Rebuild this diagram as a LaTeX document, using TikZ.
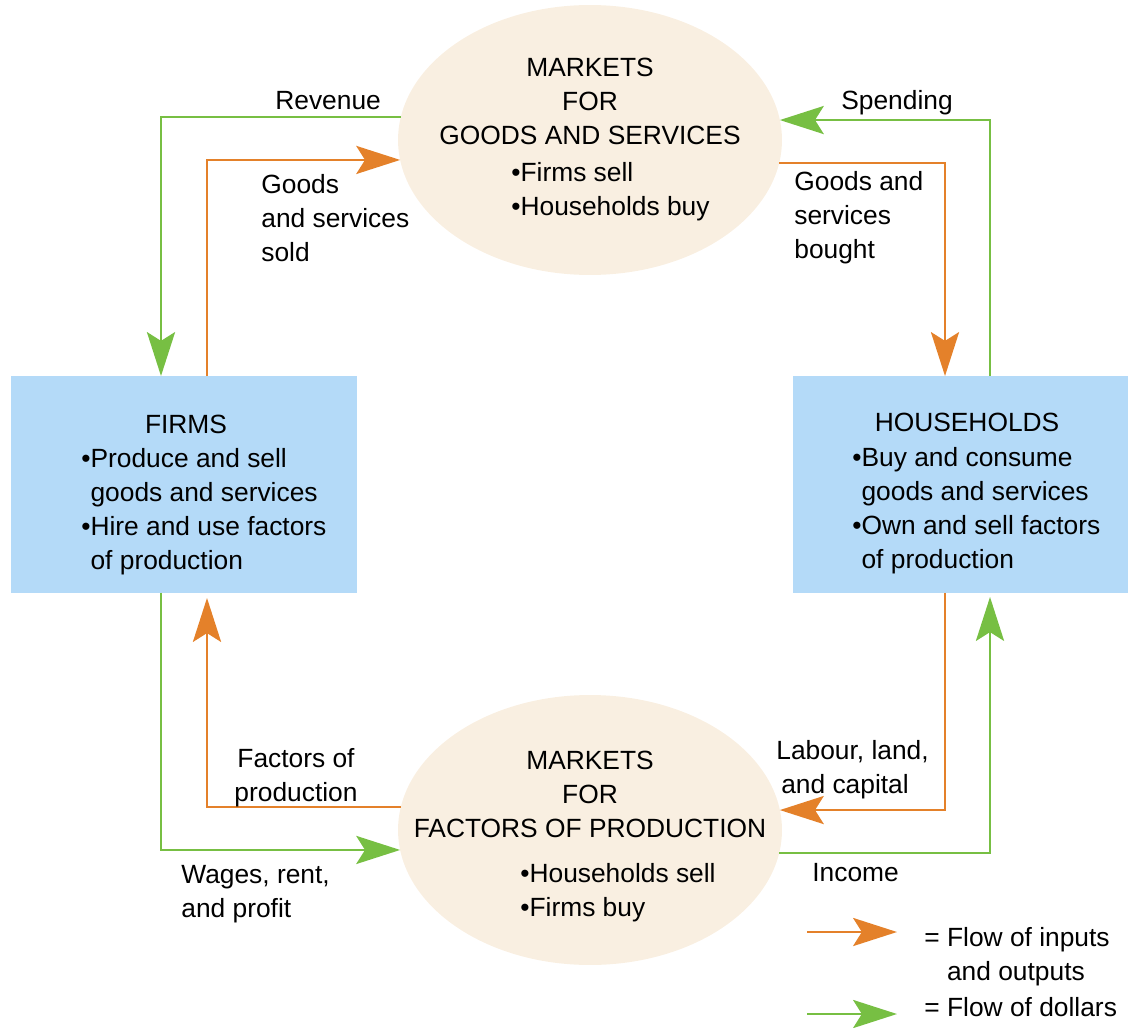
\documentclass[tikz,border=0pt]{standalone}
\usepackage{fontspec}
\setmainfont{Liberation Sans}
\usetikzlibrary{arrows.meta,calc,shapes.geometric}
\definecolor{oflow}{HTML}{E4812A}
\definecolor{gflow}{HTML}{77BF43}
\definecolor{boxblue}{HTML}{B4DAF8}
\definecolor{mktfill}{HTML}{F9EFE1}
\tikzset{
  txt/.style={font=\fontsize{15}{19.4}\selectfont, inner sep=0pt, align=left, anchor=north west},
  ctxt/.style={font=\fontsize{15}{19.4}\selectfont, inner sep=0pt, align=center, anchor=north},
  market/.style={ellipse, fill=mktfill, minimum width=7.68cm, minimum height=5.4cm, inner sep=0pt, outer sep=0pt},
  agent/.style={rectangle, fill=boxblue, minimum height=4.34cm, inner sep=0pt, outer sep=0pt},
  tipstyle/.style={-{Stealth[length=25pt,width=16pt,inset=5pt]}},
  oarr/.style={draw=oflow, line width=1.4pt, tipstyle},
  garr/.style={draw=gflow, line width=1.4pt, tipstyle}
}
\begin{document}
\begin{tikzpicture}[x=0.02cm,y=-0.02cm]
\useasboundingbox (0,0) rectangle (1128,1027);
% shapes
\node[market] (mg) at (590,140) {};
\node[market] (mf) at (590,830) {};
\node[agent, minimum width=6.92cm] (firms) at (184,484.5) {};
\node[agent, minimum width=6.7cm] (hh) at (960.5,484.5) {};
% texts in shapes
\node[ctxt] (mgtitle) at (590,58) {MARKETS\\FOR\\GOODS AND SERVICES};
\node[txt] (mgitems) at (511,162) {•Firms sell\\•Households buy};
\node[ctxt] (mftitle) at (590,751) {MARKETS\\FOR\\FACTORS OF PRODUCTION};
\node[txt] (mfitems) at (520,863) {•Households sell\\•Firms buy};
\node[ctxt] (firmstitle) at (186,415) {FIRMS};
\node[txt] (firmsitems) at (81,448) {•Produce and sell\\\hphantom{•}goods and services\\•Hire and use factors\\\hphantom{•}of production};
\node[ctxt] (hhtitle) at (967,413) {HOUSEHOLDS};
\node[txt] (hhitems) at (852,447) {•Buy and consume\\\hphantom{•}goods and services\\•Own and sell factors\\\hphantom{•}of production};
% connectors
\draw[garr] (mg.173.4) -| ($(firms.north)+(-23,0)$);
\draw[oarr] ($(firms.north)+(23,0)$) |- (mg.186.9);
\draw[oarr] (mg.353.1) -| ($(hh.north)+(-15.5,0)$);
\draw[garr] ($(hh.north)+(29.5,0)$) |- (mg.6.6);
\draw[garr] ($(firms.south)+(-23,0)$) |- (mf.186.9);
\draw[oarr] (mf.173.4) -| ($(firms.south)+(23,5)$);
\draw[oarr] ($(hh.south)+(-15.5,0)$) |- (mf.6.6);
\draw[garr] (mf.353.1) -| ($(hh.south)+(29.5,4)$);
% connector labels
\node[txt] (lrev) at (275,91) {Revenue};
\node[txt] (lsold) at (261,174) {Goods\\and services\\sold};
\node[txt] (lspend) at (841,90) {Spending};
\node[txt] (lbought) at (794,171) {Goods and\\services\\bought};
\node[ctxt] (lfactors) at (296,748) {Factors of\\production};
\node[txt] (lwages) at (181,865) {Wages, rent,\\and profit};
\node[txt] (llabour) at (776,740) {Labour, land,\\\hspace*{2.8pt}and capital};
\node[txt] (lincome) at (812,863) {Income};
% legend
\coordinate (lo1) at (807,932);
\coordinate (lo2) at (897,932);
\coordinate (lg1) at (807,1014);
\coordinate (lg2) at (897,1014);
\draw[oarr] (lo1) -- (lo2);
\draw[garr] (lg1) -- (lg2);
\node[txt] (leg1) at (924,927) {= Flow of inputs\\\hphantom{=\ }and outputs};
\node[txt] (leg2) at (924,997) {= Flow of dollars};
\end{tikzpicture}
\end{document}
